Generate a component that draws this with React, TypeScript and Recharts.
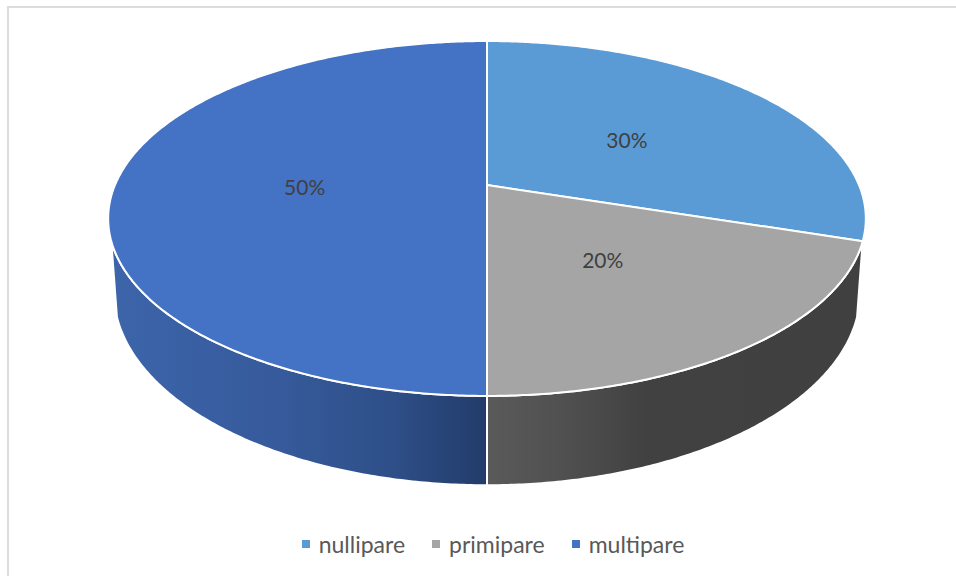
import { Legend, Pie, PieChart } from "recharts";

const categories = ["nullipare", "primipare", "multipare"];
const shares = [30, 20, 50];
const topColors = ["#5B9BD5", "#A5A5A5", "#4472C4"];
const wallFills = ["none", "url(#wallGray)", "url(#wallBlue)"];

const data = categories.map((name, i) => ({
  name,
  value: shares[i],
  fill: topColors[i],
  wall: wallFills[i],
}));

const WIDTH = 956;
const HEIGHT = 576;
const CX = 487;
const CY = 185;
const RADIUS = 372;

// perspective of the disc: near edge is drawn larger than the far edge
const TILT = 0.1887;
const TOP_SQUASH = 0.46;
const FLOOR = { scale: 0.985, squash: 0.5, cy: 256 };
// the wall is only visible between these clock angles (degrees from 12 o'clock)
const WALL_FROM = 108;
const WALL_TO = 252;

const toClock = (angle: number) => 90 - angle;

function project(clock: number, r: number, cx: number, radius: number, cy: number, squash: number, k = TILT) {
  const a = (clock * Math.PI) / 180;
  const u = Math.sin(a) * r;
  const v = -Math.cos(a) * r;
  const d = 1 - k * v;
  return [cx + (radius * u) / d, cy + (radius * squash * v) / d];
}

function arcPoints(from: number, to: number, pick: (clock: number) => number[]) {
  const n = Math.max(1, Math.ceil(Math.abs(to - from) * 2));
  const pts: string[] = [];
  for (let i = 0; i <= n; i++) {
    const p = pick(from + ((to - from) * i) / n);
    pts.push(`${p[0].toFixed(2)} ${p[1].toFixed(2)}`);
  }
  return pts;
}

function TopSlice(props: any) {
  const { cx, cy, outerRadius, startAngle, endAngle, fill } = props;
  const rim = arcPoints(toClock(startAngle), toClock(endAngle), (c) =>
    project(c, 1, cx, outerRadius, cy, TOP_SQUASH)
  );
  return (
    <path
      d={`M${cx} ${cy}L${rim.join("L")}Z`}
      fill={fill}
      stroke="#fff"
      strokeWidth={2}
      strokeLinejoin="round"
    />
  );
}

function WallSlice(props: any) {
  const { cx, cy, outerRadius, startAngle, endAngle, wall } = props;
  const from = Math.max(toClock(startAngle), WALL_FROM);
  const to = Math.min(toClock(endAngle), WALL_TO);
  if (to <= from) return null;
  const upper = arcPoints(from, to, (c) => project(c, 1, cx, outerRadius, cy, TOP_SQUASH));
  const lower = arcPoints(to, from, (c) =>
    project(c, 1, cx, outerRadius * FLOOR.scale, FLOOR.cy, FLOOR.squash / FLOOR.scale)
  );
  return (
    <path
      d={`M${upper.join("L")}L${lower.join("L")}Z`}
      fill={wall}
      stroke="#fff"
      strokeWidth={2}
      strokeLinejoin="round"
    />
  );
}

function SliceLabel(props: any) {
  const { cx, cy, outerRadius, midAngle, value } = props;
  const [x, y] = project(toClock(midAngle), 0.49, cx, outerRadius, cy, TOP_SQUASH);
  return (
    <text x={x} y={y + 1} textAnchor="middle" dominantBaseline="central" fill="#404040" fontSize={21}>
      {value}%
    </text>
  );
}

// both pies report their slices to the legend, so keep one entry per name
function LegendRow({ payload }: any) {
  const items = categories.map((name) => (payload || []).find((p: any) => p.value === name)).filter(Boolean);
  return (
    <div style={{ display: "flex", justifyContent: "center", gap: 27, fontSize: 23, color: "#595959", lineHeight: "26px" }}>
      {items.map((item: any) => (
        <span key={item.value} style={{ display: "flex", alignItems: "center" }}>
          <span style={{ width: 8, height: 8, background: item.color, marginRight: 9 }} />
          {item.value}
        </span>
      ))}
    </div>
  );
}

export default function App() {
  return (
    <div
      style={{
        position: "absolute",
        left: 0,
        top: 0,
        width: WIDTH,
        height: HEIGHT,
        overflow: "hidden",
        background: "#fff",
        fontFamily: "Lato, sans-serif",
      }}
    >
      <div style={{ position: "absolute", left: 7, top: 6, right: 0, bottom: 0, borderTop: "2px solid #dcdcdc", borderLeft: "2px solid #dcdcdc" }} />
      <PieChart width={WIDTH} height={HEIGHT} margin={{ top: 0, right: 0, bottom: 0, left: 0 }}>
        <defs>
          <linearGradient id="wallBlue" gradientUnits="userSpaceOnUse" x1={108} y1={0} x2={487} y2={0}>
            <stop offset="0" stopColor="#3D65AB" />
            <stop offset="0.45" stopColor="#365A9B" />
            <stop offset="0.75" stopColor="#2E4F88" />
            <stop offset="1" stopColor="#223B6A" />
          </linearGradient>
          <linearGradient id="wallGray" gradientUnits="userSpaceOnUse" x1={487} y1={0} x2={866} y2={0}>
            <stop offset="0" stopColor="#5A5A5A" />
            <stop offset="0.2" stopColor="#505050" />
            <stop offset="0.42" stopColor="#414141" />
            <stop offset="1" stopColor="#404040" />
          </linearGradient>
        </defs>
        <Pie
          data={data}
          dataKey="value"
          nameKey="name"
          cx={CX}
          cy={CY}
          outerRadius={RADIUS}
          startAngle={90}
          endAngle={-270}
          legendType="none"
          shape={WallSlice}
          isAnimationActive={false}
        />
        <Pie
          data={data}
          dataKey="value"
          nameKey="name"
          cx={CX}
          cy={CY}
          outerRadius={RADIUS}
          startAngle={90}
          endAngle={-270}
          shape={TopSlice}
          label={SliceLabel}
          labelLine={false}
          isAnimationActive={false}
        />
        <Legend
          content={LegendRow}
          wrapperStyle={{ left: 15, top: 531, width: WIDTH }}
        />
      </PieChart>
    </div>
  );
}
